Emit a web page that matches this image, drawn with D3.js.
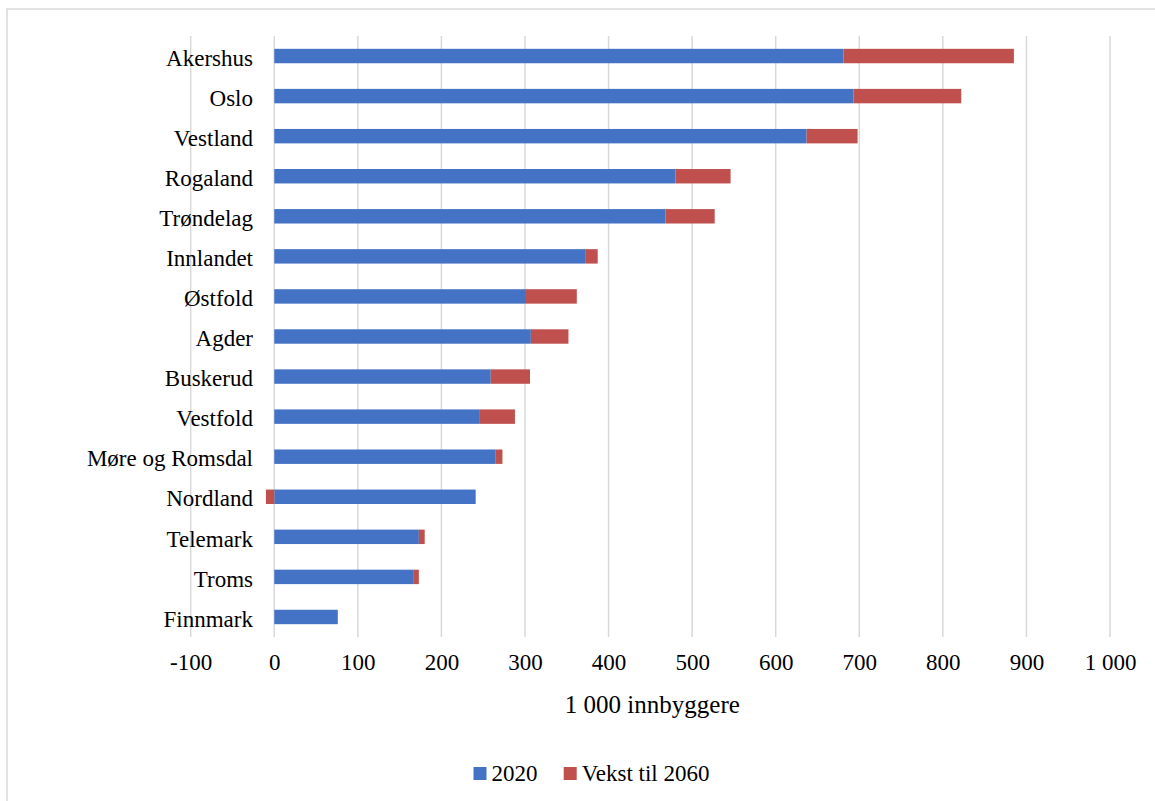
<!DOCTYPE html>
<html>
<head>
<meta charset="utf-8">
<script src="https://cdn.jsdelivr.net/npm/d3@7"></script>
<style>
  body { margin: 0; background: #fff; }
  svg { display: block; font-family: "Liberation Serif", "DejaVu Serif", serif; }
</style>
</head>
<body>
<svg></svg>
<script>
// population 2020 and growth to 2060, by county (1 000 inhabitants)

var counties = ["Akershus", "Oslo", "Vestland", "Rogaland", "Trøndelag", "Innlandet", "Østfold",
                "Agder", "Buskerud", "Vestfold", "Møre og Romsdal", "Nordland", "Telemark", "Troms", "Finnmark"];
var pop2020 = [681, 693, 637, 480, 468, 372, 300, 307, 259, 246, 265, 241, 173, 167, 76];
var growth2060 = [204, 129, 61, 66, 59, 15, 62, 45, 47, 42, 8, -10, 7, 6, 0];
var xTicks = [-100, 0, 100, 200, 300, 400, 500, 600, 700, 800, 900, 1000];
var seriesNames = ["2020", "Vekst til 2060"];
var colors = ["#4472C4", "#C0504D"];

var width = 1155;
var height = 801;
var plotLeft = 190.7, plotRight = 1110, plotTop = 36, plotBottom = 637;

var rows = counties.map((c, i) => ({county: c, pop: pop2020[i], growth: growth2060[i]}));

var svg = d3.select('svg')
            .attr('width', width)
            .attr('height', height);

// chart border
svg.append('rect')
   .attr('x', 7).attr('y', 9)
   .attr('width', 1300).attr('height', 1000)
   .attr('fill', 'none')
   .attr('stroke', '#d9d9d9')
   .attr('stroke-width', 1.5);

var xScale = d3.scaleLinear()
               .domain([-100, 1000])
               .range([plotLeft, plotRight]);

var yScale = d3.scaleBand()
               .domain(counties)
               .range([plotTop, plotBottom])
               .paddingInner(0.64)
               .paddingOuter(0.32);

var locale = d3.formatLocale({decimal: ",", thousands: " ", grouping: [3], currency: ["", ""], minus: "-"});
var fmt = locale.format(",d");

// gridlines
svg.append('g')
   .selectAll('line')
   .data(xTicks)
   .enter()
   .append('line')
     .attr('x1', d => xScale(d))
     .attr('x2', d => xScale(d))
     .attr('y1', plotTop)
     .attr('y2', plotBottom)
     .attr('stroke', '#d9d9d9')
     .attr('stroke-width', 1.5);

// 2020 bars
svg.append('g')
   .selectAll('rect')
   .data(rows)
   .enter()
   .append('rect')
     .attr('x', d => xScale(0))
     .attr('y', d => yScale(d.county))
     .attr('width', d => xScale(d.pop) - xScale(0))
     .attr('height', yScale.bandwidth())
     .attr('fill', colors[0]);

// growth bars (negative growth goes left of zero)
svg.append('g')
   .selectAll('rect')
   .data(rows.filter(d => d.growth !== 0))
   .enter()
   .append('rect')
     .attr('x', d => d.growth > 0 ? xScale(d.pop) : xScale(d.growth))
     .attr('y', d => yScale(d.county))
     .attr('width', d => Math.abs(xScale(d.growth) - xScale(0)))
     .attr('height', yScale.bandwidth())
     .attr('fill', colors[1]);

// axes
var xAxis = svg.append('g')
   .attr('transform', 'translate(0,' + (plotBottom + 26) + ')')
   .call(d3.axisBottom(xScale).tickValues(xTicks).tickFormat(fmt).tickSize(0).tickPadding(0));

var yAxis = svg.append('g')
   .attr('transform', 'translate(253,0)')
   .call(d3.axisLeft(yScale).tickSize(0).tickPadding(0));

[xAxis, yAxis].forEach(a => {
  a.select('.domain').remove();
  a.selectAll('text')
   .attr('font-family', '"Liberation Serif", serif')
   .attr('font-size', 23)
   .attr('fill', '#000');
});
yAxis.selectAll('text').attr('dy', '0.42em');
xAxis.selectAll('text').attr('dy', '0.32em');

svg.append('text')
   .attr('x', (plotLeft + plotRight) / 2 + 2)
   .attr('y', 713)
   .style('text-anchor', 'middle')
   .attr('font-size', 25)
   .attr('fill', '#000')
   .text('1 000 innbyggere');

// legend
var legendX = [473.5, 563.7];
var legend = svg.append('g')
   .selectAll('g')
   .data(seriesNames)
   .enter()
   .append('g')
     .attr('transform', (d, i) => 'translate(' + legendX[i] + ',767)');

legend.append('rect')
   .attr('width', 13).attr('height', 13)
   .attr('fill', (d, i) => colors[i]);

legend.append('text')
   .attr('x', 18)
   .attr('y', 13.5)
   .attr('font-size', 23)
   .attr('fill', '#000')
   .text(d => d);
</script>
</body>
</html>
